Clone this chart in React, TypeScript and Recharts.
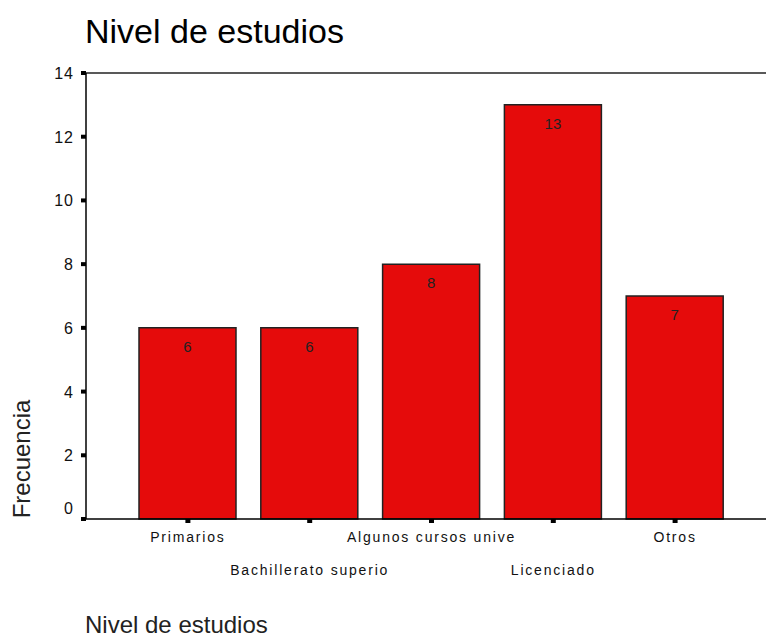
import { BarChart, Bar, XAxis, YAxis, LabelList, ReferenceLine } from "recharts";

const categories = [
  "Primarios",
  "Bachillerato superio",
  "Algunos cursos unive",
  "Licenciado",
  "Otros",
];
const frecuencias = [6, 6, 8, 13, 7];
const yTicks = [0, 2, 4, 6, 8, 10, 12, 14];

const data = categories.map((nivel, i) => ({ nivel, frecuencia: frecuencias[i] }));

const FONT = "'Liberation Sans', Arial, sans-serif";

function YTick(props: any) {
  const { x, y, payload } = props;
  // the zero label sits a bit above its tick, as in the original
  const shift = payload.value === 0 ? -11 : 0;
  return (
    <text
      x={x}
      y={y + shift}
      dy={6}
      textAnchor="end"
      fontSize={16}
      letterSpacing={1}
      fill="#111"
      fontFamily={FONT}
    >
      {payload.value}
    </text>
  );
}

function XTick(props: any) {
  const { x, y, payload, index } = props;
  const second = index % 2 === 1;
  return (
    <text
      x={x}
      y={y}
      dy={second ? 50 : 17}
      textAnchor="middle"
      fontSize={14}
      letterSpacing={1.8}
      fill="#111"
      fontFamily={FONT}
    >
      {payload.value}
    </text>
  );
}

export default function App() {
  return (
    <div style={{ position: "absolute", left: 0, top: 0, width: 766, height: 639, background: "#fff" }}>
      <div
        style={{
          position: "absolute",
          left: 85,
          top: 12,
          fontFamily: FONT,
          fontSize: 34,
          color: "#000",
          whiteSpace: "nowrap",
        }}
      >
        Nivel de estudios
      </div>
      <div
        style={{
          position: "absolute",
          left: 85,
          top: 615,
          fontFamily: FONT,
          fontSize: 24,
          lineHeight: "20px",
          color: "#222",
          whiteSpace: "nowrap",
        }}
      >
        Nivel de estudios
      </div>
      <div
        style={{
          position: "absolute",
          left: 22,
          top: 459,
          transform: "translate(-50%, -50%) rotate(-90deg)",
          fontFamily: FONT,
          fontSize: 24,
          color: "#222",
          whiteSpace: "nowrap",
        }}
      >
        Frecuencia
      </div>
      <BarChart
        width={766}
        height={639}
        data={data}
        margin={{ top: 73, right: 0, left: 0, bottom: 0 }}
        style={{ position: "absolute", left: 0, top: 0 }}
      >
        <XAxis
          dataKey="nivel"
          height={120}
          padding={{ left: 41, right: 30 }}
          axisLine={{ stroke: "#000", strokeWidth: 1.5 }}
          tickLine={{ stroke: "#000", strokeWidth: 5 }}
          tickSize={4}
          interval={0}
          tick={<XTick />}
        />
        <YAxis
          width={86}
          domain={[0, 14]}
          ticks={yTicks}
          axisLine={{ stroke: "#000", strokeWidth: 1.5 }}
          tickLine={{ stroke: "#000", strokeWidth: 4 }}
          tickSize={5}
          tickMargin={7}
          tick={<YTick />}
        />
        <ReferenceLine y={14} stroke="#222" strokeWidth={1.5} />
        <Bar
          dataKey="frecuencia"
          fill="#E50B0B"
          stroke="#222"
          strokeWidth={1.5}
          barSize={97}
          isAnimationActive={false}
        >
          <LabelList
            dataKey="frecuencia"
            position="insideTop"
            offset={13}
            style={{ fill: "#222", fontSize: 15, fontFamily: FONT }}
          />
        </Bar>
      </BarChart>
    </div>
  );
}
